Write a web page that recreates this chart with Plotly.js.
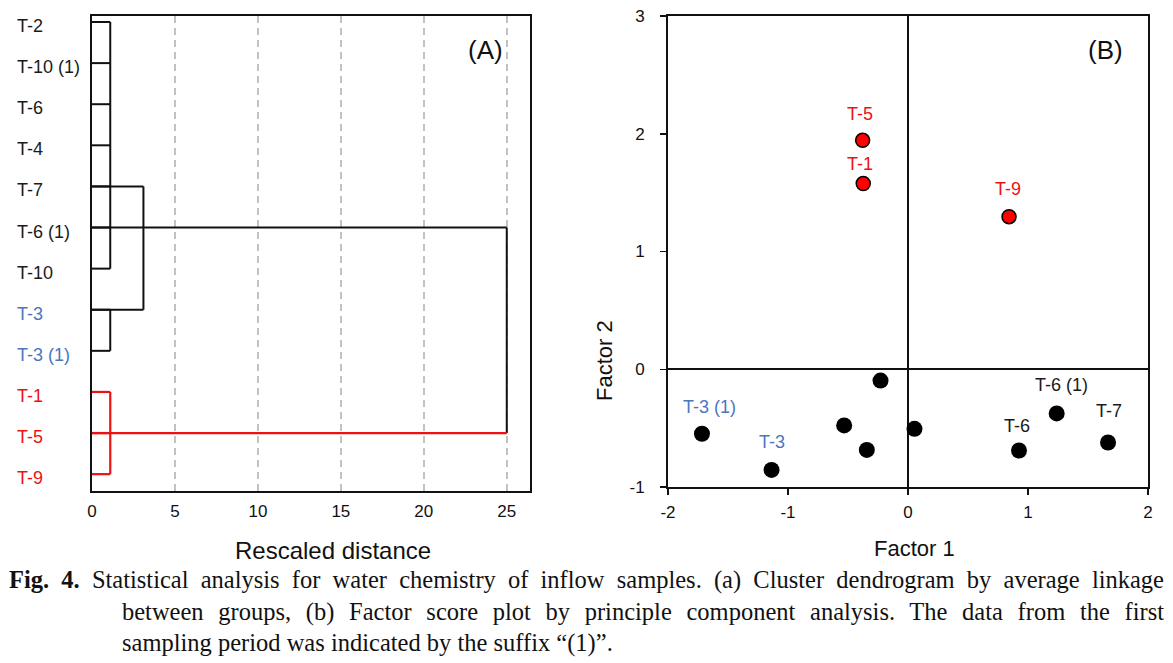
<!DOCTYPE html>
<html>
<head>
<meta charset="utf-8">
<script src="https://cdn.plot.ly/plotly-3.0.1.min.js"></script>
<style>
  html, body { margin: 0; padding: 0; background: #fff; }
  #wrap { position: relative; width: 1173px; height: 663px; overflow: hidden; }
  #chart { position: absolute; left: 0; top: 0; width: 1173px; height: 663px; }
  #cap { position: absolute; left: 0; top: 564px; width: 1173px;
         font-family: "Liberation Serif", "Times New Roman", serif; font-size: 24.5px;
         line-height: 31.5px; color: #111; }
  .l1 { margin-left: 9px; width: 1155px; text-align: justify; text-align-last: justify; }
  .l2 { margin-left: 122px; width: 1042px; text-align: justify; text-align-last: justify; }
  .l3 { margin-left: 122px; width: 1042px; text-align: left; }
</style>
</head>
<body>
<div id="wrap">
  <div id="chart"></div>
  <div id="cap">
    <div class="l1"><b>Fig. 4.</b> Statistical analysis for water chemistry of inflow samples. (a) Cluster dendrogram by average linkage</div>
    <div class="l2">between groups, (b) Factor score plot by principle component analysis. The data from the first</div>
    <div class="l3">sampling period was indicated by the suffix “(1)”.</div>
  </div>
</div>
<script>
// ---------------- Data: (A) dendrogram ----------------
const leaves = ['T-2', 'T-10 (1)', 'T-6', 'T-4', 'T-7', 'T-6 (1)', 'T-10', 'T-3', 'T-3 (1)', 'T-1', 'T-5', 'T-9'];
const leafGroup = ['k', 'k', 'k', 'k', 'k', 'k', 'k', 'b', 'b', 'r', 'r', 'r'];
const clusterNames = ['A', 'B', 'C', 'AB', 'ABC'];
const clusterChildren = [[0, 1, 2, 3, 4, 5, 6], [7, 8], [9, 10, 11], ['A', 'B'], ['AB', 'C']];
const clusterHeight = [1.1, 1.1, 1.1, 3.1, 25];
const clusterLinkRow = [4, 7, 10, 5, null];
const clusterGroup = ['k', 'k', 'r', 'k', 'k'];
const distTicks = [0, 5, 10, 15, 20, 25];

// ---------------- Data: (B) factor scores ----------------
const factor1 = [-0.378, -0.373, 0.842, -1.717, -1.137, -0.229, -0.532, -0.343, 0.054, 0.925, 1.239, 1.667];
const factor2 = [1.944, 1.577, 1.296, -0.548, -0.855, -0.096, -0.477, -0.685, -0.506, -0.690, -0.375, -0.622];
const pointLabels = ['T-5', 'T-1', 'T-9', 'T-3 (1)', 'T-3', '', '', '', '', 'T-6', 'T-6 (1)', 'T-7'];
const pointGroup = ['r', 'r', 'r', 'b', 'b', 'k', 'k', 'k', 'k', 'k', 'k', 'k'];
const f1Ticks = [-2, -1, 0, 1, 2];
const f1TickText = ['-2', '-1', '0', '1', '2'];
const f2Ticks = [-1, 0, 1, 2, 3];
const f2TickText = ['-1', '0', '1', '2', '3'];

// ---------------- Styles ----------------
const lineColor = { k: '#111111', b: '#111111', r: '#ee1111' };
const textColor = { k: '#1a1a1a', b: '#4a76c0', r: '#ee1111' };
const labelShiftY = [26, 20, 28, 27, 28, 0, 0, 0, 0, 25, 28, 31];
const labelShiftX = [-3, -3, -1, 8, 0, 0, 0, 0, 0, -2, 5, 1];
const FONT = '"Liberation Sans", Arial, sans-serif';

// Build dendrogram segments
const segs = { k: { x: [], y: [] }, r: { x: [], y: [] } };
function addSeg(g, x0, y0, x1, y1) {
  const key = g === 'r' ? 'r' : 'k';
  segs[key].x.push(x0, x1, null);
  segs[key].y.push(y0, y1, null);
}
clusterNames.forEach((name, ci) => {
  const h = clusterHeight[ci];
  const rows = [];
  clusterChildren[ci].forEach(ch => {
    let row, g;
    if (typeof ch === 'number') { row = ch; g = leafGroup[ch]; }
    else { const k = clusterNames.indexOf(ch); row = clusterLinkRow[k]; g = clusterGroup[k]; }
    rows.push(row);
    addSeg(g, 0, row, h, row);
  });
  addSeg(clusterGroup[ci], h, Math.min(...rows), h, Math.max(...rows));
});

const traces = [
  { x: segs.k.x, y: segs.k.y, xaxis: 'x', yaxis: 'y', mode: 'lines', type: 'scatter',
    line: { color: lineColor.k, width: 2 }, hoverinfo: 'skip' },
  { x: segs.r.x, y: segs.r.y, xaxis: 'x', yaxis: 'y', mode: 'lines', type: 'scatter',
    line: { color: lineColor.r, width: 2.2 }, hoverinfo: 'skip' },
  { x: factor1, y: factor2, xaxis: 'x2', yaxis: 'y2', mode: 'markers', type: 'scatter',
    marker: { size: pointGroup.map(g => g === 'r' ? 14 : 16), opacity: 1,
              color: pointGroup.map(g => g === 'r' ? '#ff0000' : '#000000'),
              line: { color: '#000', width: pointGroup.map(g => g === 'r' ? 1.5 : 0) } },
    hoverinfo: 'x+y' }
];

const annotations = [];
leaves.forEach((name, i) => {
  annotations.push({ xref: 'paper', yref: 'y', x: 15 / 1173, y: i, yshift: -4,
    xanchor: 'left', yanchor: 'middle', showarrow: false, text: name,
    font: { family: FONT, size: 18, color: textColor[leafGroup[i]] } });
});
pointLabels.forEach((t, i) => {
  if (!t) return;
  annotations.push({ xref: 'x2', yref: 'y2', x: factor1[i], y: factor2[i],
    xshift: labelShiftX[i], yshift: labelShiftY[i], xanchor: 'center', yanchor: 'middle',
    showarrow: false, text: t, font: { family: FONT, size: 18, color: textColor[pointGroup[i]] } });
});
annotations.push(
  { xref: 'paper', yref: 'paper', x: 485 / 1173, y: 1 - 50 / 663, showarrow: false, text: '(A)',
    xanchor: 'center', yanchor: 'middle', font: { family: FONT, size: 26, color: '#111' } },
  { xref: 'paper', yref: 'paper', x: 1105 / 1173, y: 1 - 50 / 663, showarrow: false, text: '(B)',
    xanchor: 'center', yanchor: 'middle', font: { family: FONT, size: 26, color: '#111' } },
  { xref: 'paper', yref: 'paper', x: 333 / 1173, y: 1 - 550 / 663, showarrow: false, text: 'Rescaled distance',
    xanchor: 'center', yanchor: 'middle', font: { family: FONT, size: 24, color: '#111' } },
  { xref: 'paper', yref: 'paper', x: 914 / 1173, y: 1 - 548 / 663, showarrow: false, text: 'Factor 1',
    xanchor: 'center', yanchor: 'middle', font: { family: FONT, size: 22, color: '#111' } },
  { xref: 'paper', yref: 'paper', x: 605 / 1173, y: 1 - 361 / 663, showarrow: false, text: 'Factor 2',
    textangle: -90, xanchor: 'center', yanchor: 'middle', font: { family: FONT, size: 22, color: '#111' } }
);

const axisCommon = { showline: true, mirror: true, linecolor: '#111', linewidth: 2, fixedrange: true };

const layout = {
  width: 1173, height: 663,
  margin: { l: 0, r: 0, t: 0, b: 0, pad: 0 },
  paper_bgcolor: '#ffffff', plot_bgcolor: '#ffffff',
  showlegend: false,
  font: { family: FONT, color: '#111' },
  xaxis: Object.assign({}, axisCommon, {
    domain: [92 / 1173, 530 / 1173], range: [0, 26.4], anchor: 'y',
    tickmode: 'array', tickvals: distTicks, ticktext: distTicks.map(String),
    ticks: '', showgrid: true, gridcolor: '#c2c2c2', gridwidth: 1.5, griddash: '7px,5px',
    zeroline: false, tickfont: { size: 17, family: FONT, color: '#111' }, ticklabelstandoff: 4
  }),
  yaxis: Object.assign({}, axisCommon, {
    domain: [1 - 491 / 663, 1 - 16 / 663], range: [11.41, -0.146], anchor: 'x',
    showticklabels: false, ticks: '', showgrid: false, zeroline: false
  }),
  xaxis2: Object.assign({}, axisCommon, {
    domain: [668 / 1173, 1148 / 1173], range: [-2, 2], anchor: 'y2',
    tickmode: 'array', tickvals: f1Ticks, ticktext: f1TickText,
    ticks: 'outside', ticklen: 6, tickwidth: 1.5, tickcolor: '#111',
    showgrid: false, zeroline: true, zerolinecolor: '#111', zerolinewidth: 2,
    tickfont: { size: 17, family: FONT, color: '#111' }, ticklabelstandoff: 3
  }),
  yaxis2: Object.assign({}, axisCommon, {
    domain: [1 - 487 / 663, 1 - 16 / 663], range: [-1, 3], anchor: 'x2',
    tickmode: 'array', tickvals: f2Ticks, ticktext: f2TickText,
    ticks: 'outside', ticklen: 6, tickwidth: 1.5, tickcolor: '#111',
    showgrid: false, zeroline: true, zerolinecolor: '#111', zerolinewidth: 2,
    tickfont: { size: 17, family: FONT, color: '#111' }, ticklabelstandoff: 12
  }),
  annotations: annotations
};

Plotly.newPlot('chart', traces, layout, { displayModeBar: false, staticPlot: true });
</script>
</body>
</html>
